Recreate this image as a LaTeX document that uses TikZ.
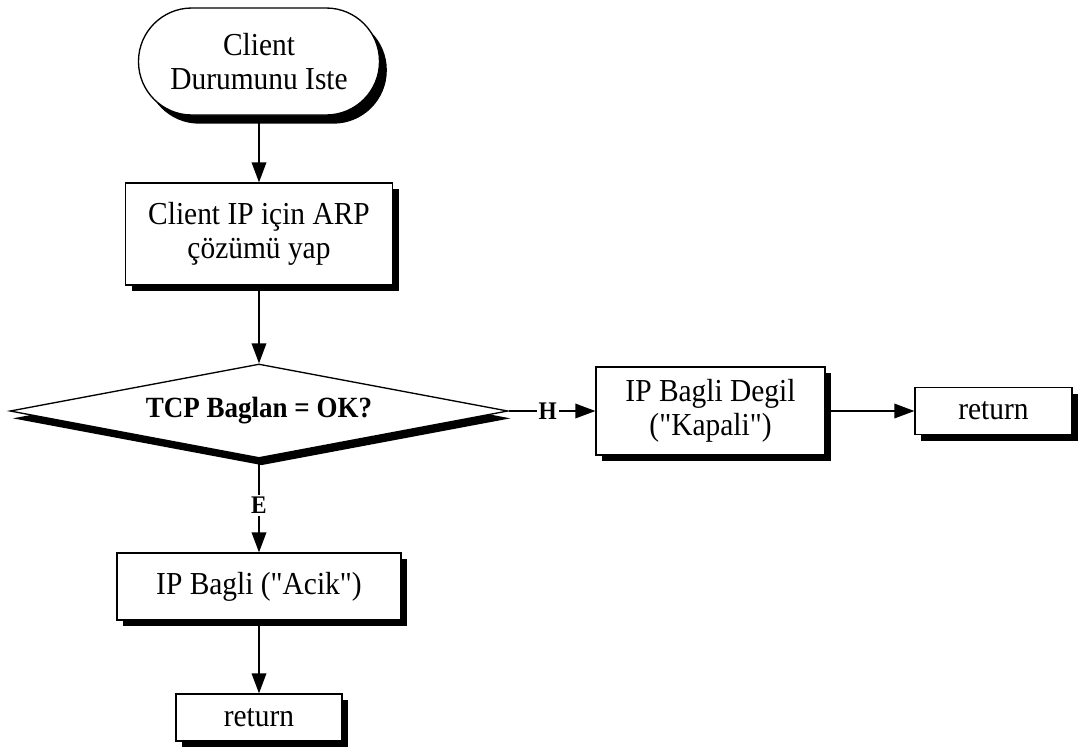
\documentclass[tikz,border=0pt]{standalone}
\usepackage{fontspec}
\setmainfont[FakeStretch=0.92,Ligatures=TeXOff]{Liberation Serif}
\usetikzlibrary{shapes.geometric,shadows,arrows.meta}
\begin{document}
\begin{tikzpicture}[x=0.75pt,y=-0.75pt,
  base/.style={draw=black, line width=1pt, fill=white, inner sep=0pt, align=center,
    font=\fontsize{24}{25.5}\selectfont},
  boxshadow/.style={general shadow={fill=black, shadow xshift=4.5pt, shadow yshift=-4.5pt}},
  procbox/.style={base, rectangle, boxshadow},
  terminal/.style={base, rectangle, rounded corners=40pt,
    general shadow={fill=black, shadow xshift=5.5pt, shadow yshift=-6.5pt}},
  decision/.style={base, diamond, shape aspect=5,
    font=\fontsize{22}{24}\selectfont\bfseries,
    general shadow={fill=black, shadow xshift=2pt, shadow yshift=-5.5pt}},
  flow/.style={draw=black, line width=1pt, -{Triangle[length=15pt,width=11pt]}},
  lbl/.style={font=\fontsize{19}{20}\selectfont\bfseries, fill=white, inner sep=1.5pt}
]
\useasboundingbox (0,0) rectangle (1080,747);

% main column
\node[terminal, minimum width=180.75pt, minimum height=80.25pt] (start) at (259,61.5)
  {Client\\Durumunu Iste};
\node[procbox, minimum width=200.25pt, minimum height=76.5pt] (arp) at (259,234)
  {Client IP için ARP\\çözümü yap};
\node[decision, minimum width=373.5pt, minimum height=70.5pt] (tcp) at (259,411)
  {TCP Baglan = OK?};
\node[procbox, minimum width=213pt, minimum height=50.25pt] (acik) at (259,586.5)
  {IP Bagli ("Acik")};
\node[procbox, minimum width=124.5pt, minimum height=35.25pt] (ret1) at (259,717.5)
  {return};

% right branch
\node[procbox, minimum width=171.75pt, minimum height=66pt] (kapali) at (710.5,411)
  {IP Bagli Degil\\("Kapali")};
\node[procbox, minimum width=117.75pt, minimum height=35.25pt] (ret2) at (993.5,411)
  {return};

% connectors
\draw[flow] (start.south) -- (arp.north);
\draw[flow] (arp.south) -- (tcp.north);
\draw[flow] (tcp.south) -- node[lbl, pos=0.5] {E} (acik.north);
\draw[flow] (acik.south) -- (ret1.north);
\draw[flow] (tcp.east) -- node[lbl, pos=0.45] {H} (kapali.west);
\draw[flow] (kapali.east) -- (ret2.west);
\end{tikzpicture}
\end{document}
